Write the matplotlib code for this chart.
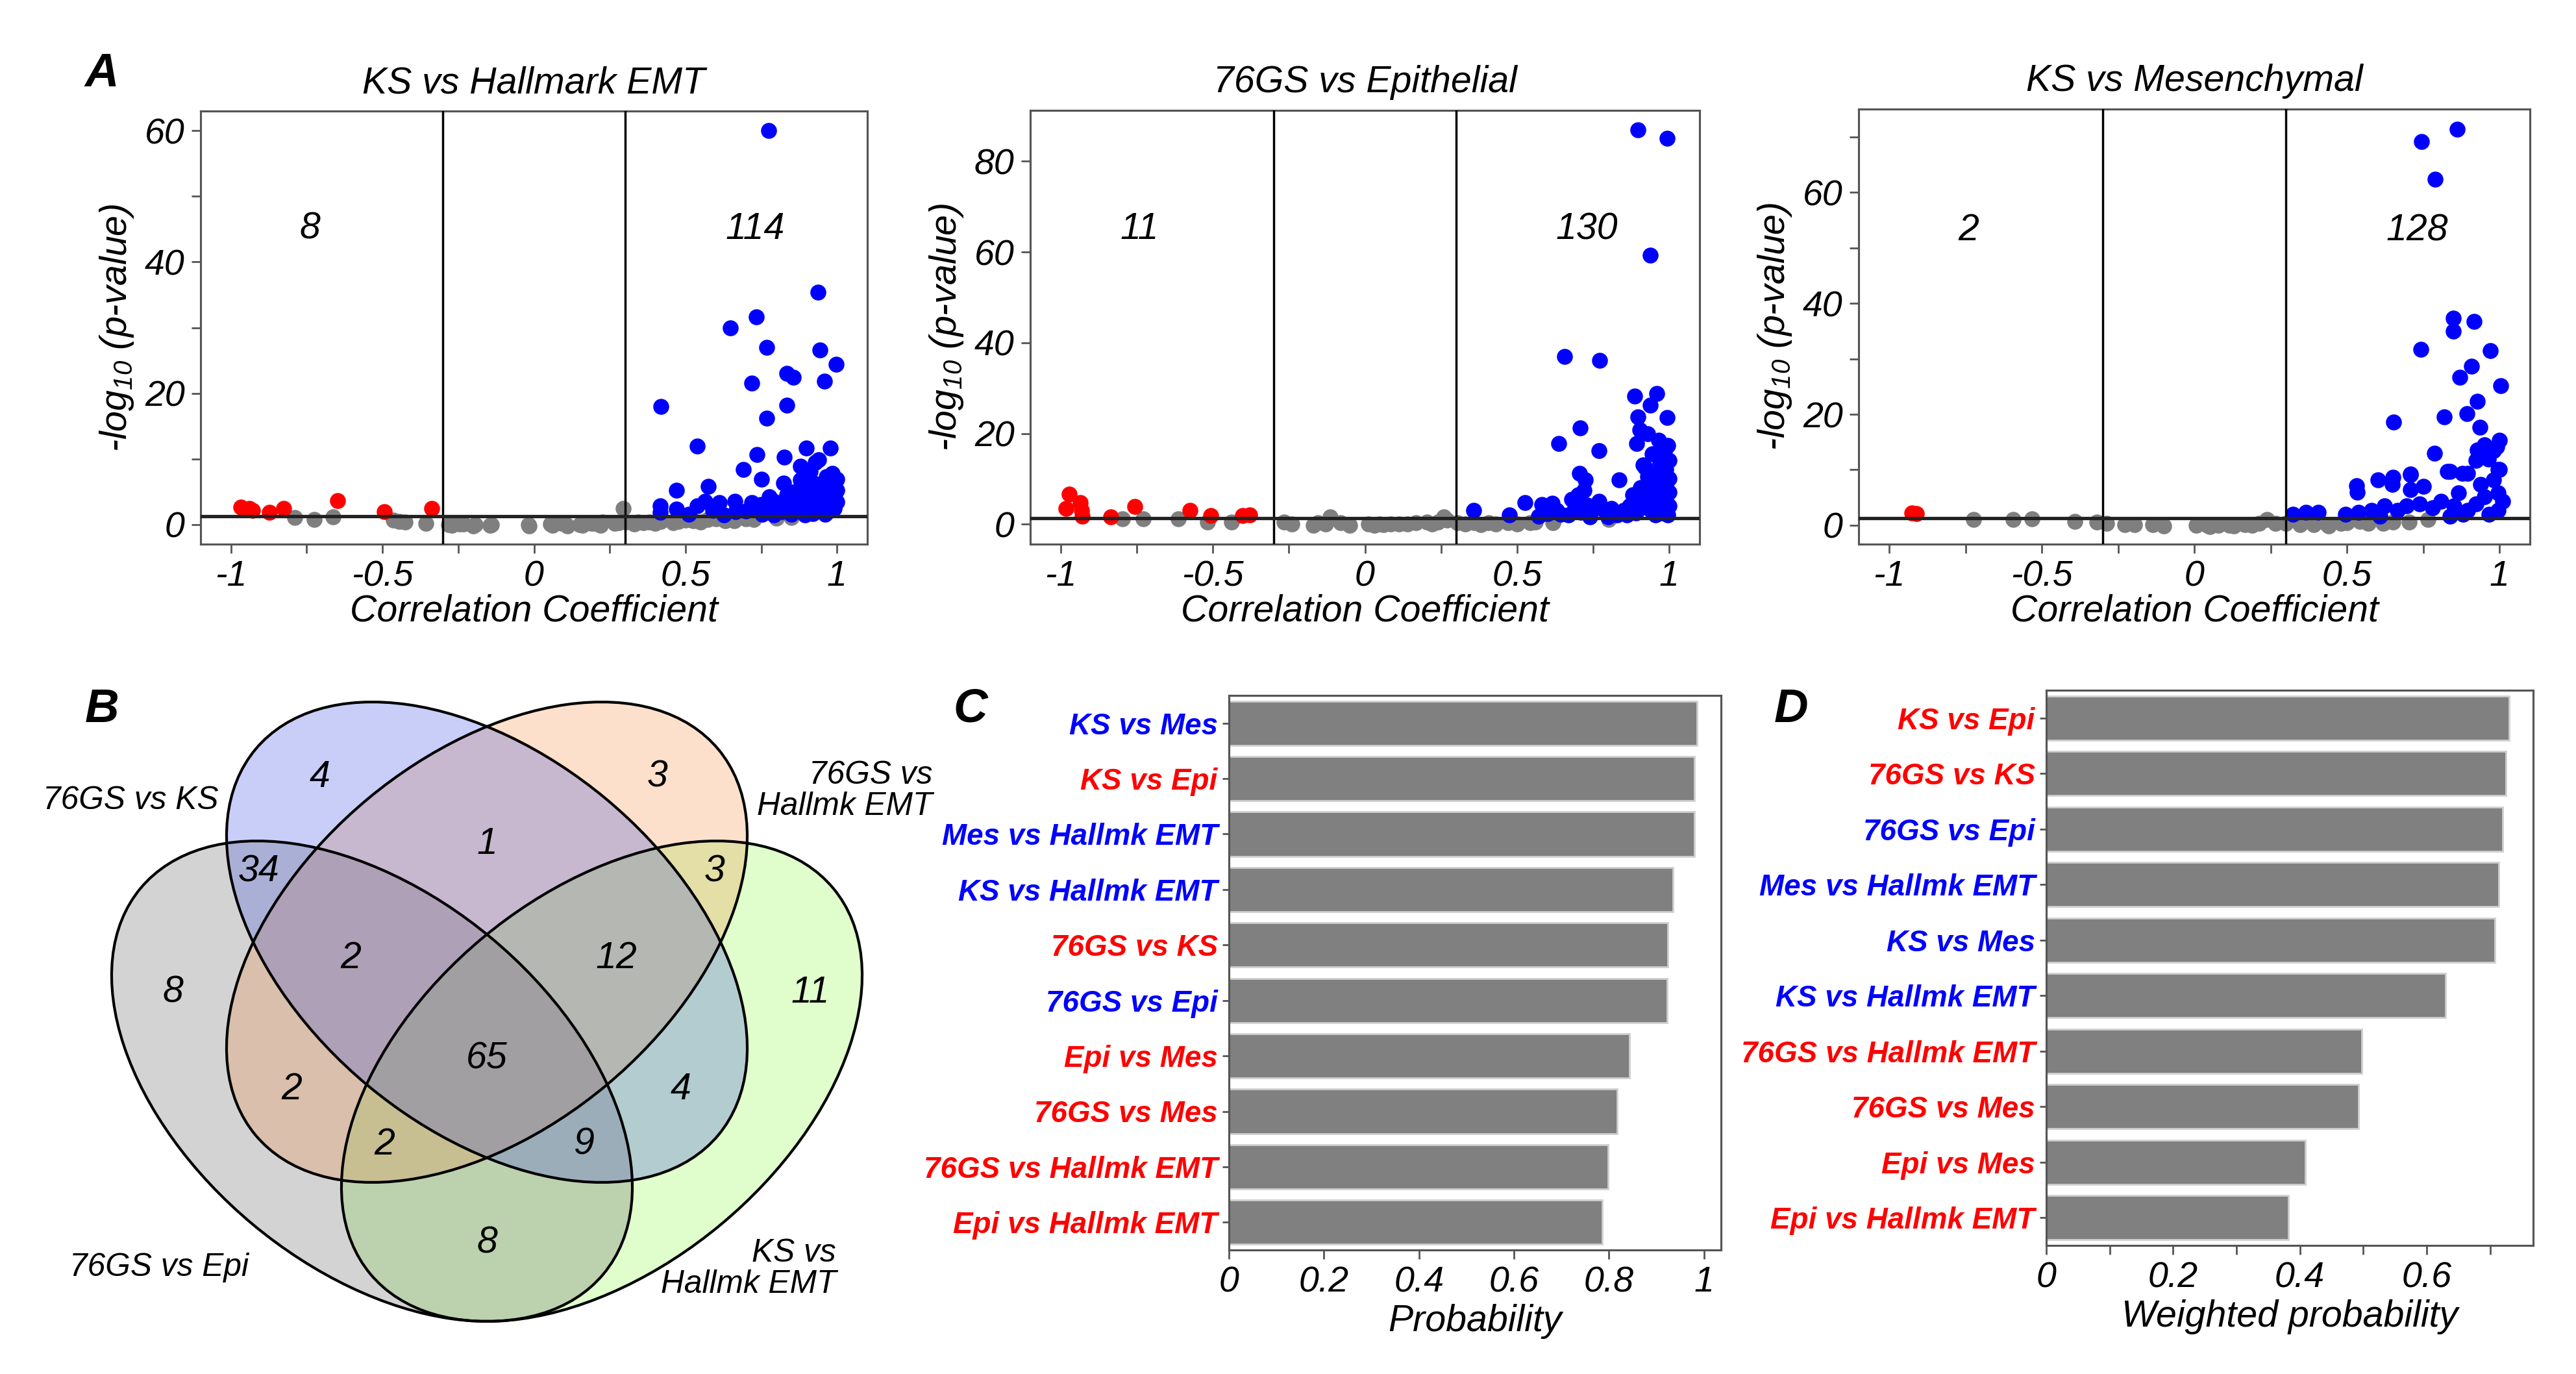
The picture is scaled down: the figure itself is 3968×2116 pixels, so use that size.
import numpy as np
import matplotlib
matplotlib.use('Agg')
import matplotlib.pyplot as plt
from matplotlib.patches import Ellipse
from matplotlib.ticker import MultipleLocator, FuncFormatter
from matplotlib.colors import to_rgb

plt.rcParams['font.family'] = ['Liberation Sans', 'DejaVu Sans']
plt.rcParams['font.style'] = 'italic'
plt.rcParams['mathtext.fontset'] = 'custom'
plt.rcParams['mathtext.rm'] = 'Liberation Sans:italic'
plt.rcParams['mathtext.it'] = 'Liberation Sans:italic'
plt.rcParams['mathtext.default'] = 'it'
plt.rcParams['axes.unicode_minus'] = False

W, H = 3968, 2116

# ---------------- panel A data (correlation coefficient, -log10 p) ----------------
# KS vs Hallmark EMT
hme_red_x = [-0.967, -0.94, -0.928, -0.873, -0.825, -0.648, -0.494, -0.337]
hme_red_y = [2.67, 2.4, 2.1, 1.85, 2.45, 3.6, 1.9, 2.4]
hme_blue_x = [0.774, 0.937, 0.734, 0.649, 0.768, 0.943, 0.997, 0.834, 0.855, 0.958,
              0.718, 0.419, 0.835, 0.768, 0.538, 0.899, 0.977, 0.736, 0.826, 0.929,
              0.691, 0.912, 0.985, 0.750, 0.576, 0.823, 0.470, 0.880, 0.956,
              0.417, 0.417, 0.470, 0.539, 0.564, 0.611, 0.626, 0.662, 0.665, 0.719,
              0.733, 0.748, 0.753, 0.777, 0.777, 0.791, 0.791, 0.820, 0.820, 0.835,
              0.835, 0.850, 0.863, 0.863, 0.878, 0.878, 0.892, 0.892, 0.906, 0.906,
              0.921, 0.921, 0.928, 0.935, 0.950, 0.950, 0.965, 0.970, 0.978, 0.985,
              0.993, 1.000, 1.000, 0.990, 0.960, 0.895, 0.855, 0.805, 0.700, 0.590,
              0.510, 0.880, 0.940, 0.970, 1.000, 0.985]
hme_blue_y = [60.0, 35.4, 31.6, 30.0, 27.0, 26.6, 24.4, 23.0, 22.4, 21.8,
              21.5, 18.0, 18.2, 16.2, 11.9, 11.6, 11.6, 10.7, 10.3, 9.5,
              8.4, 8.1, 7.8, 6.9, 5.8, 6.3, 5.2, 6.8, 6.2,
              2.84, 1.85, 2.3, 2.84, 3.5, 3.3, 1.5, 3.5, 1.9, 3.3,
              2.5, 3.0, 1.6, 4.2, 2.2, 3.5, 1.5, 3.2, 1.9, 4.5,
              2.6, 1.6, 5.0, 3.0, 4.2, 2.0, 5.5, 3.3, 7.0, 2.5,
              4.8, 1.7, 6.2, 3.6, 5.2, 2.4, 7.3, 4.0, 6.6, 5.8,
              4.6, 3.4, 6.9, 2.4, 1.6, 1.5, 2.2, 2.6, 2.0, 2.1,
              1.6, 8.9, 9.9, 1.9, 5.2, 3.0]
hme_grey_x = [-0.789, -0.726, -0.664, -0.463, -0.445, -0.425, -0.357, -0.281, -0.233, -0.194,
              -0.141, -0.018, 0.055, 0.103, 0.151, 0.189, 0.227, 0.266, 0.295, 0.304,
              0.343, 0.381, 0.419, 0.477, 0.525, 0.573, 0.630, 0.726,
              -0.27, -0.245, -0.20, -0.144, -0.015, 0.06, 0.09, 0.11, 0.16, 0.20,
              0.22, 0.28, 0.33, 0.36, 0.40, 0.46, 0.50, 0.55, 0.60, 0.66, 0.70, 0.80, 0.85]
hme_grey_y = [1.1, 0.8, 1.2, 0.7, 0.5, 0.4, 0.2, 0.0, 0.1, 0.0,
              0.0, 0.0, 0.05, 0.1, 0.0, 0.2, 0.4, 0.2, 2.4, 0.4,
              0.4, 0.4, 0.5, 0.5, 0.6, 0.8, 0.6, 0.8,
              -0.1, 0.1, -0.2, -0.1, -0.2, -0.1, 0.15, -0.2, -0.1, 0.2,
              -0.1, 0.3, 0.1, 0.3, 0.2, 0.3, 0.7, 0.4, 0.9, 0.6, 0.9, 1.0, 1.1]

# 76GS vs Epithelial
epi_red_x = [-0.972, -0.982, -0.936, -0.932, -0.930, -0.835, -0.756, -0.575, -0.507, -0.403, -0.379]
epi_red_y = [6.65, 3.46, 4.8, 3.0, 1.8, 1.6, 3.9, 3.0, 1.9, 1.9, 2.1]
epi_blue_x = [0.897, 0.993, 0.938, 0.656, 0.772, 0.886, 0.960, 0.938, 0.897, 0.993,
              0.904, 0.708, 0.638, 0.893, 0.996, 0.770, 0.985, 0.915, 0.706, 0.724,
              0.835, 0.526, 0.357, 0.474, 0.581, 0.599,
              0.92, 0.93, 0.94, 0.95, 0.96, 0.97, 0.98, 0.99, 1.0, 0.92,
              0.93, 0.94, 0.95, 0.96, 0.97, 0.98, 0.99, 1.0, 1.0, 0.985,
              0.965, 0.955, 0.975, 0.995, 0.91, 0.89, 0.87, 0.85, 0.83, 0.81,
              0.79, 0.77, 0.75, 0.73, 0.71, 0.69, 0.67, 0.63, 0.60, 0.57,
              0.905, 0.915, 0.88, 0.86, 0.80, 0.74, 0.70, 0.72, 1.0, 0.99,
              0.945, 0.965, 0.93, 0.615, 0.679, 0.643]
epi_blue_y = [86.9, 85.1, 59.3, 37.0, 36.1, 28.2, 28.8, 26.2, 23.7, 23.5,
              20.8, 21.2, 17.8, 17.8, 17.3, 16.2, 14.4, 13.0, 11.2, 9.8,
              9.8, 4.8, 3.0, 2.1, 4.4, 3.9,
              12.5, 10.5, 9.0, 7.5, 11.0, 13.5, 9.5, 12.0, 10.0, 6.0,
              4.5, 3.0, 5.5, 4.0, 6.5, 3.5, 5.0, 7.0, 14.0, 16.0,
              15.0, 2.0, 2.5, 2.0, 3.8, 2.5, 4.0, 3.0, 2.0, 3.5,
              2.8, 5.0, 3.2, 4.2, 2.6, 3.6, 2.0, 3.1, 2.3, 1.8,
              8.0, 5.2, 6.5, 2.0, 1.6, 1.6, 6.5, 7.5, 4.0, 8.5,
              15.5, 18.5, 20.0, 4.6, 5.5, 2.2]
epi_grey_x = [-0.798, -0.728, -0.614, -0.517, -0.439, -0.265, -0.154, -0.114, -0.081, 0.011,
              0.048, 0.085, 0.112, 0.167, 0.204, 0.241, 0.259, 0.305, 0.360, 0.406,
              0.471, 0.544, 0.618, 0.801,
              -0.24, -0.17, -0.13, -0.05, 0.03, 0.06, 0.14, 0.22, 0.27, 0.33,
              0.38, 0.43, 0.50, 0.56, 0.62]
epi_grey_y = [1.2, 1.2, 1.2, 0.5, 0.5, 0.5, 0.3, 1.6, 0.3, 0.0,
              0.0, 0.0, 0.0, 0.3, 0.5, 0.5, 1.6, 0.3, 0.3, 0.3,
              0.3, 0.3, 0.3, 1.1,
              0.1, -0.2, 0.0, -0.2, -0.2, -0.1, 0.0, 0.1, 0.9, 0.0,
              -0.1, 0.1, 0.0, 0.5, 0.8]

# KS vs Mesenchymal
mes_red_x = [-0.925, -0.910]
mes_red_y = [2.2, 2.1]
mes_blue_x = [0.862, 0.744, 0.789, 0.848, 0.916, 0.848, 0.742, 0.970, 0.909, 0.871,
              1.005, 0.927, 0.894, 0.819, 0.654, 0.937, 1.000, 0.928, 0.787, 0.991,
              0.964, 1.000, 0.830, 0.708, 0.878, 0.602, 0.651, 0.531, 0.535,
              0.324, 0.367, 0.406, 0.648, 0.709, 0.752, 0.709, 0.838, 0.895, 0.866,
              0.938, 0.995, 0.980, 0.995, 1.010, 0.952, 0.923, 0.895, 0.852, 0.809,
              0.780, 0.738, 0.695, 0.666, 0.623, 0.581, 0.538, 0.495, 0.995, 0.966,
              0.880, 0.838, 0.609, 0.980, 0.950, 0.923]
mes_blue_y = [71.4, 69.2, 62.4, 37.3, 36.7, 35.0, 31.7, 31.5, 28.7, 26.7,
              25.2, 22.4, 20.1, 19.5, 18.6, 17.7, 15.3, 13.6, 13.0, 14.2,
              11.9, 10.1, 9.7, 9.1, 9.3, 8.2, 8.6, 7.1, 6.0,
              1.95, 2.3, 2.3, 7.4, 9.2, 7.0, 6.4, 9.7, 9.3, 5.8,
              7.4, 10.1, 8.2, 5.8, 4.3, 5.1, 3.9, 2.7, 3.5, 4.3,
              3.1, 3.9, 3.5, 2.7, 3.5, 2.7, 2.3, 1.95, 2.7, 1.95,
              1.95, 1.6, 1.6, 13.5, 14.5, 11.7]
mes_grey_x = [-0.724, -0.594, -0.531, -0.391, -0.320, -0.287, -0.227, -0.196, -0.137, 0.006,
              0.042, 0.078, 0.114, 0.167, 0.212, 0.239, 0.266, 0.346, 0.391, 0.436,
              0.481, 0.543, 0.570, 0.651, 0.705, 0.767,
              -0.10, 0.05, 0.13, 0.19, 0.30, 0.44, 0.50, 0.62]
mes_grey_y = [1.1, 1.1, 1.2, 0.75, 0.6, 0.4, 0.15, 0.15, 0.15, 0.0,
              0.0, 0.0, 0.0, 0.15, 0.4, 1.1, 0.4, 0.15, 0.15, 0.15,
              0.4, 0.75, 0.4, 0.6, 0.6, 1.1,
              -0.1, -0.2, -0.1, 0.0, 0.3, -0.1, 0.5, 0.3]

volcano_titles = ['KS vs Hallmark EMT', '76GS vs Epithelial', 'KS vs Mesenchymal']
volcano_counts = [('8', '114'), ('11', '130'), ('2', '128')]

# ---------------- panel B data (Venn region counts) ----------------
venn_set_names = ['76GS vs KS', '76GS vs\nHallmk EMT', '76GS vs Epi', 'KS vs\nHallmk EMT']
venn_counts = ['4', '3', '1', '34', '3', '2', '12', '8', '11', '65', '2', '4', '2', '9', '8']

# ---------------- panels C and D data ----------------
prob_labels = ['KS vs Mes', 'KS vs Epi', 'Mes vs Hallmk EMT', 'KS vs Hallmk EMT', '76GS vs KS',
               '76GS vs Epi', 'Epi vs Mes', '76GS vs Mes', '76GS vs Hallmk EMT', 'Epi vs Hallmk EMT']
prob_values = [0.986, 0.980, 0.980, 0.935, 0.924, 0.923, 0.843, 0.818, 0.798, 0.786]
prob_colors = ['blue', 'red', 'blue', 'blue', 'red', 'blue', 'red', 'red', 'red', 'red']

wprob_labels = ['KS vs Epi', '76GS vs KS', '76GS vs Epi', 'Mes vs Hallmk EMT', 'KS vs Mes',
                'KS vs Hallmk EMT', '76GS vs Hallmk EMT', '76GS vs Mes', 'Epi vs Mes', 'Epi vs Hallmk EMT']
wprob_values = [0.730, 0.725, 0.720, 0.714, 0.708, 0.630, 0.498, 0.493, 0.409, 0.382]
wprob_colors = ['red', 'red', 'blue', 'blue', 'blue', 'blue', 'red', 'red', 'red', 'red']

fig = plt.figure(figsize=(W / 250, H / 250), dpi=250)


def box(left, top, right, bottom):
    return [left / W, 1 - bottom / H, (right - left) / W, (bottom - top) / H]


fmt = FuncFormatter(lambda v, p: f'{v:g}')
spine_col = '#555555'

# ---------------- A: volcano plots ----------------
volcano_data = [
    (hme_grey_x, hme_grey_y, hme_red_x, hme_red_y, hme_blue_x, hme_blue_y),
    (epi_grey_x, epi_grey_y, epi_red_x, epi_red_y, epi_blue_x, epi_blue_y),
    (mes_grey_x, mes_grey_y, mes_red_x, mes_red_y, mes_blue_x, mes_blue_y),
]
volcano_boxes = [box(309, 171, 1336, 838), box(1587, 170, 2618, 838), box(2863, 168, 3897, 838)]
volcano_ylims = [(-3.0, 63.0), (-4.4, 91.2), (-3.4, 75.0)]
volcano_minor = [10, None, 10]
count_y = [45.0, 65.0, 53.1]

for i in range(3):
    ax = fig.add_axes(volcano_boxes[i])
    gx, gy, rx, ry, bx, by = volcano_data[i]
    ax.scatter(gx, gy, s=50, color='#7f7f7f', linewidths=0, zorder=2)
    ax.scatter(rx, ry, s=50, color='#ff0000', linewidths=0, zorder=3)
    ax.scatter(bx, by, s=50, color='#0000ff', linewidths=0, zorder=3)
    ax.axvline(-0.3, color='black', lw=1.0, zorder=4)
    ax.axvline(0.3, color='black', lw=1.0, zorder=4)
    ax.axhline(-np.log10(0.05), color='#222222', lw=1.5, zorder=4)
    ax.set_xlim(-1.1, 1.1)
    ax.set_ylim(*volcano_ylims[i])
    ax.xaxis.set_major_locator(MultipleLocator(0.5))
    ax.xaxis.set_minor_locator(MultipleLocator(0.25))
    ax.yaxis.set_major_locator(MultipleLocator(20))
    if volcano_minor[i]:
        ax.yaxis.set_minor_locator(MultipleLocator(volcano_minor[i]))
    ax.xaxis.set_major_formatter(fmt)
    ax.yaxis.set_major_formatter(fmt)
    ax.tick_params(which='both', direction='out', length=4, width=0.8, color=spine_col,
                   labelsize=16, pad=3)
    for sp in ax.spines.values():
        sp.set_color(spine_col)
        sp.set_linewidth(0.9)
    ax.set_title(volcano_titles[i], fontsize=16.5, pad=8)
    ax.set_xlabel('Correlation Coefficient', fontsize=16.5, labelpad=0)
    ax.set_ylabel('-log$_{10}$ (p-value)', fontsize=16.5, labelpad=4)
    ax.text(-0.74, count_y[i], volcano_counts[i][0], fontsize=16.5, ha='center', va='center')
    ax.text(0.73, count_y[i], volcano_counts[i][1], fontsize=16.5, ha='center', va='center')

# ---------------- B: four-set Venn diagram ----------------
vax = fig.add_axes(box(0, 1000, 1400, 2116))
ell_a, ell_b = 464, 287
# blue (76GS vs KS), orange (76GS vs Hallmk EMT), grey (76GS vs Epi), green (KS vs Hallmk EMT)
ellipses = [(750, 1451, 39.8), (750, 1451, -39.8), (573, 1665, 39.8), (927, 1665, -39.8)]
fills = ['#c9cef9', '#fde0cb', '#d3d3d3', '#e0fdcc']
gx_, gy_ = np.meshgrid(np.arange(0, 1400) + 0.5, np.arange(1000, 2116) + 0.5)
masks = []
for cx, cy, ang in ellipses:
    t = np.deg2rad(ang)
    u = (gx_ - cx) * np.cos(t) + (gy_ - cy) * np.sin(t)
    v = -(gx_ - cx) * np.sin(t) + (gy_ - cy) * np.cos(t)
    masks.append((u / ell_a) ** 2 + (v / ell_b) ** 2 <= 1)

# blend of multiply shading and alpha stacking (green, grey, orange, blue)
img_mul = np.ones(gx_.shape + (3,))
for m, col in zip(masks, fills):
    img_mul[m] *= np.array(to_rgb(col))
alpha = 0.4
img_alp = np.ones(gx_.shape + (3,))
for k in [3, 2, 1, 0]:
    base = (np.array(to_rgb(fills[k])) - (1 - alpha)) / alpha
    img_alp[masks[k]] = alpha * base + (1 - alpha) * img_alp[masks[k]]
img = np.clip(0.5 * (img_mul + img_alp), 0, 1)

vax.imshow(img, extent=(0, 1400, 2116, 1000), origin='upper', interpolation='antialiased')
for cx, cy, ang in ellipses:
    vax.add_patch(Ellipse((cx, cy), 2 * ell_a, 2 * ell_b, angle=ang, fill=False,
                          edgecolor='black', lw=1.2))
vax.set_xlim(0, 1400)
vax.set_ylim(2116, 1000)
vax.set_aspect('auto')
vax.axis('off')

count_pos = [(493, 1197), (1013, 1197), (750, 1300), (399, 1343), (1101, 1343),
             (540, 1476), (949, 1476), (266, 1529), (1248, 1529), (750, 1630),
             (449, 1678), (1049, 1678), (592, 1763), (899, 1763), (750, 1914)]
for (px, py), c in zip(count_pos, venn_counts):
    vax.text(px, py, c, fontsize=16.5, ha='center', va='center')

name_pos = [(337, 1233, 'right'), (1436, 1218, 'right'), (245, 1952, 'center'), (1288, 1954, 'right')]
for (px, py, ha), name in zip(name_pos, venn_set_names):
    vax.text(px, py, name, fontsize=14.3, ha=ha, va='center', multialignment='right',
             linespacing=1.05)

# ---------------- C and D: bar charts ----------------
bar_specs = [
    (box(1893, 1071, 2651, 1925), prob_labels, prob_values, prob_colors, (0, 1.036), 0.2, None,
     'Probability'),
    (box(3152, 1063, 3902, 1918), wprob_labels, wprob_values, wprob_colors, (0, 0.768), 0.2, 0.1,
     'Weighted probability'),
]
for rect, labels, values, cols, xlim, major, minor, xlabel in bar_specs:
    ax = fig.add_axes(rect)
    pos = np.arange(len(labels))
    ax.barh(pos, values, height=0.8, color='#808080', edgecolor='#cfcfcf', linewidth=0.8)
    ax.set_ylim(len(labels) - 0.5, -0.5)
    ax.set_xlim(*xlim)
    ax.set_yticks(pos)
    ax.set_yticklabels(labels, fontsize=13.2, fontweight='bold')
    for lab, c in zip(ax.get_yticklabels(), cols):
        lab.set_color(c)
    ax.xaxis.set_major_locator(MultipleLocator(major))
    if minor:
        ax.xaxis.set_minor_locator(MultipleLocator(minor))
    ax.xaxis.set_major_formatter(fmt)
    ax.tick_params(axis='x', which='both', direction='out', length=4, width=0.8,
                   color=spine_col, labelsize=16, pad=3)
    ax.tick_params(axis='y', direction='out', length=3, width=0.8, color=spine_col, pad=2)
    for sp in ax.spines.values():
        sp.set_color(spine_col)
        sp.set_linewidth(0.9)
    ax.set_xlabel(xlabel, fontsize=16.5, labelpad=2)

# ---------------- panel letters ----------------
for letter, px, py in [('A', 157, 114), ('B', 157, 1093), ('C', 1495, 1093), ('D', 2759, 1093)]:
    fig.text(px / W, 1 - py / H, letter, fontsize=21, fontweight='heavy', ha='center', va='center')

fig.savefig('out.png', dpi=250)
